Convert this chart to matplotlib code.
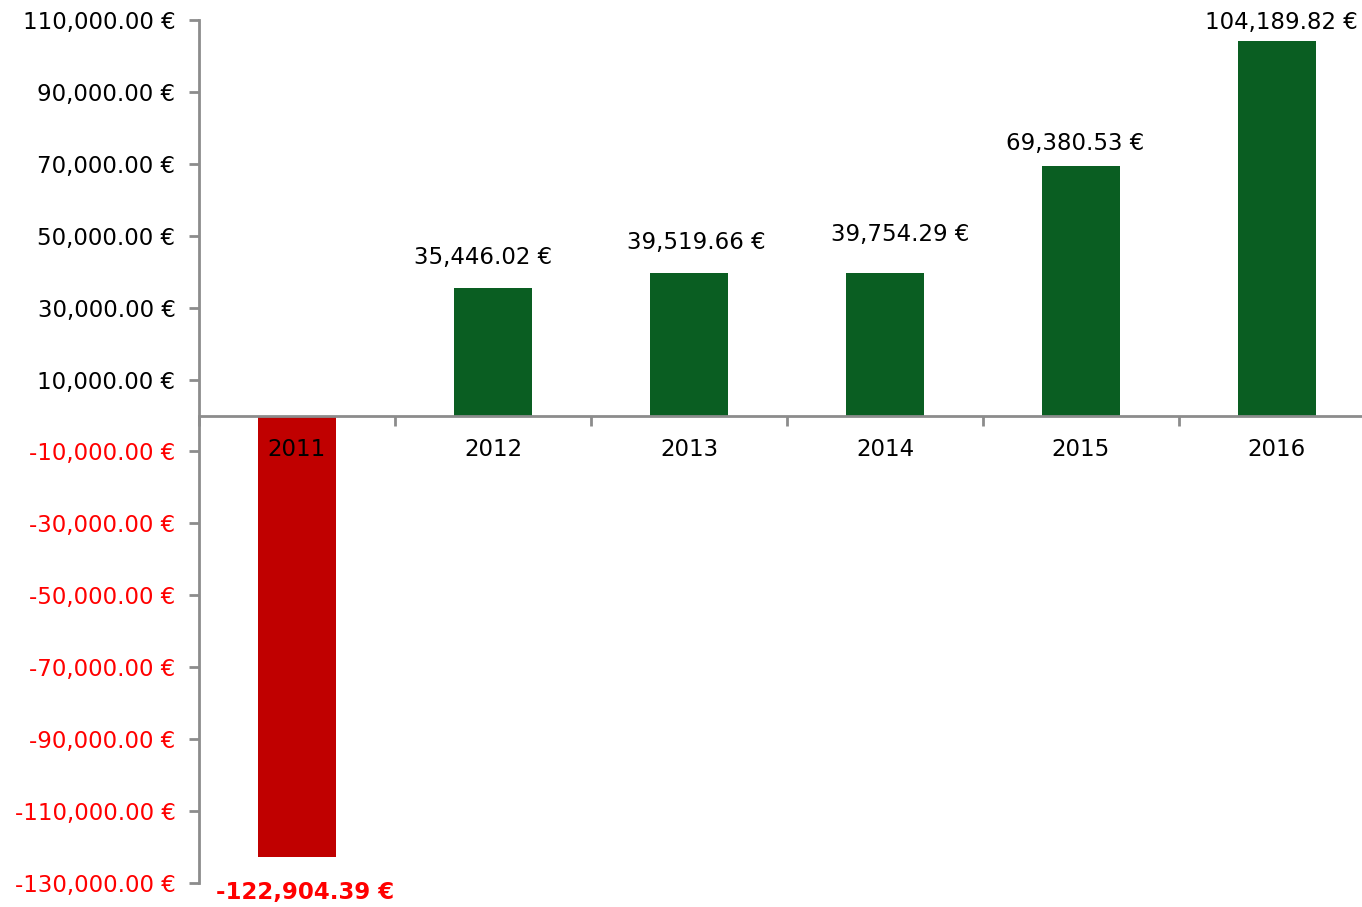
import matplotlib
matplotlib.use('Agg')
import matplotlib.pyplot as plt
from matplotlib.ticker import FixedLocator

# Data
years = ['2011', '2012', '2013', '2014', '2015', '2016']
values = [-122904.39, 35446.02, 39519.66, 39754.29, 69380.53, 104189.82]
y_ticks = list(range(-130000, 110001, 20000))

# label offsets (points) - the original labels were nudged by hand
label_dx = [6, -7, 5, 11, -4, 3]
label_dy = [-17, 14, 14, 19, 8, 5]

GREEN = '#0a5e22'
RED_BAR = '#c00000'
RED_TXT = '#ff0000'
AXIS_GRAY = '#8c8c8c'

plt.rcParams['font.family'] = ['DejaVu Sans']
FS = 16.5

W, H = 1362, 907
fig = plt.figure(figsize=(W / 100, H / 100), dpi=100)
ax = fig.add_axes([199 / W, (H - 883) / H, (W - 199) / W, 863 / H])

x = list(range(len(years)))
colors = [GREEN if v >= 0 else RED_BAR for v in values]
ax.bar(x, values, width=0.40, color=colors, zorder=1)

ax.set_ylim(-130000, 110000)
ax.set_xlim(-0.5, 5.434)

# spines
for s in ['top', 'right']:
    ax.spines[s].set_visible(False)
ax.spines['bottom'].set_position(('data', 0))
ax.spines['bottom'].set_color(AXIS_GRAY)
ax.spines['left'].set_color(AXIS_GRAY)
ax.spines['bottom'].set_linewidth(2)
ax.spines['left'].set_linewidth(2)

# y axis
ax.set_yticks(y_ticks)
ax.set_yticklabels([f"{v:,.2f} €" for v in y_ticks], fontsize=FS)
for lbl, v in zip(ax.get_yticklabels(), y_ticks):
    lbl.set_color(RED_TXT if v < 0 else 'black')
ax.tick_params(axis='y', which='major', direction='out', length=7, width=2,
               color=AXIS_GRAY, pad=10)

# x axis: tick marks at category boundaries, labels at centers
ax.xaxis.set_major_locator(FixedLocator([i - 0.5 for i in range(len(years))]))
ax.xaxis.set_minor_locator(FixedLocator(x))
ax.set_xticklabels([], minor=False)
ax.set_xticklabels(years, minor=True, fontsize=FS)
ax.tick_params(axis='x', which='major', direction='out', length=7, width=2,
               color=AXIS_GRAY)
ax.tick_params(axis='x', which='minor', length=0, pad=16)

# value labels
for i, v in enumerate(values):
    txt = f"{v:,.2f} €"
    if v < 0:
        ax.annotate(txt, (i, v), xytext=(label_dx[i], label_dy[i]),
                    textcoords='offset points', ha='center', va='top',
                    fontsize=FS, fontweight='bold', color=RED_TXT)
    else:
        ax.annotate(txt, (i, v), xytext=(label_dx[i], label_dy[i]),
                    textcoords='offset points', ha='center', va='bottom',
                    fontsize=FS, color='black')

fig.savefig('out.png', dpi=100)
